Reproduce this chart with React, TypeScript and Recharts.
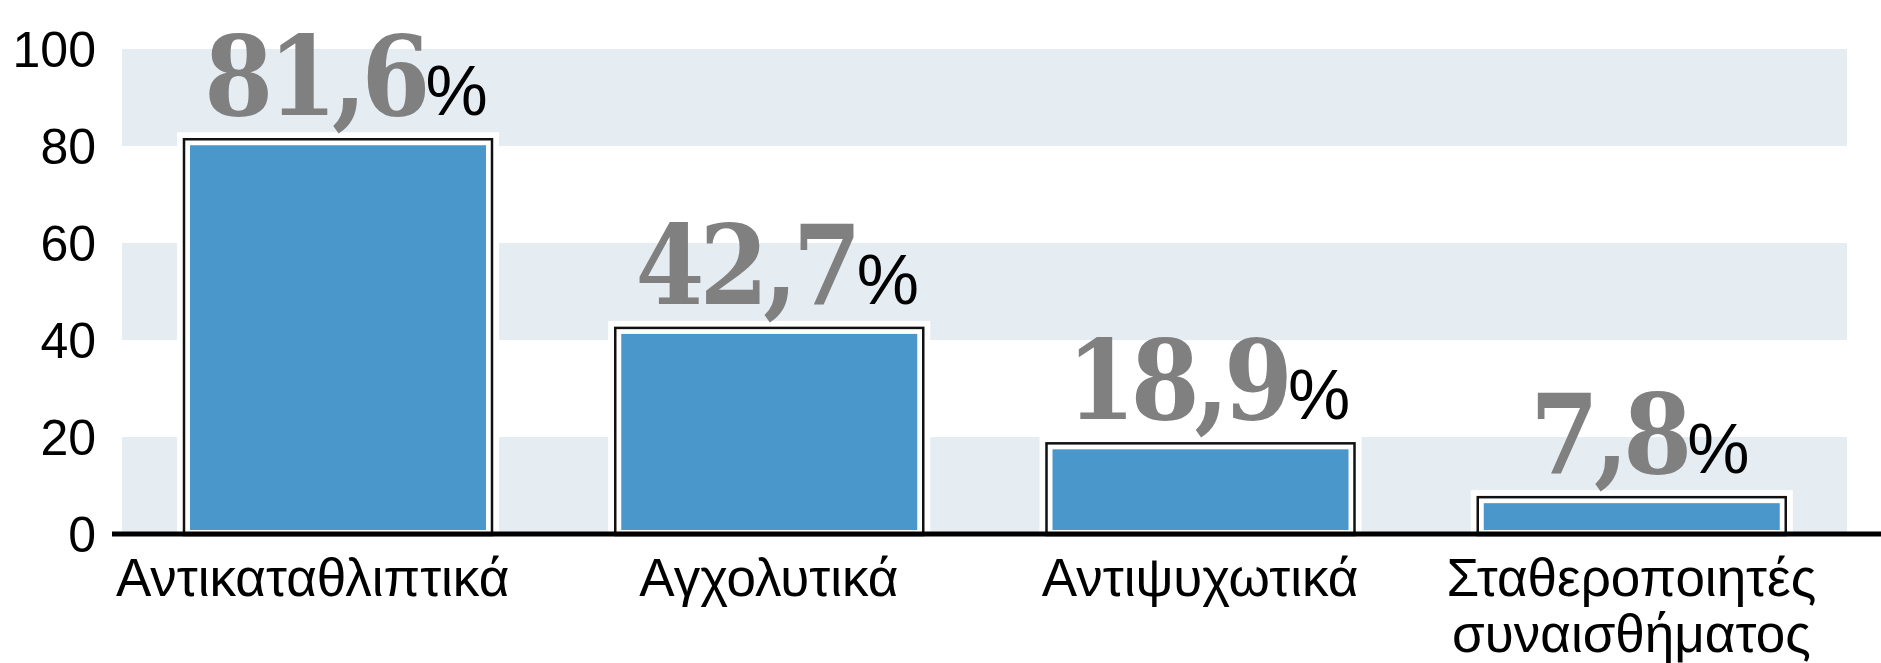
import React from 'react';
import { BarChart, Bar, XAxis, YAxis, ReferenceArea, LabelList } from 'recharts';

const categories = ['Αντικαταθλιπτικά', 'Αγχολυτικά', 'Αντιψυχωτικά', 'Σταθεροποιητές\nσυναισθήματος'];
const values = [81.6, 42.7, 18.9, 7.8];
const yTicks = [0, 20, 40, 60, 80, 100];
const bands = [[0, 20], [40, 60], [80, 100]];

const data = categories.map((name, i) => ({ name, value: values[i] }));

const BLUE = '#4a98cb';
const BAND = '#e5ecf2';
const SANS = '"Liberation Sans Narrow", "Liberation Sans", sans-serif';

const BarShape = (props: any) => {
  const { x, y, width, height } = props;
  const bottom = y + height;
  return (
    <g>
      <rect x={x - 6} y={y - 6} width={width + 12} height={height + 6} fill="#fff" />
      <rect x={x + 1} y={y + 1} width={width - 2} height={height} fill="#fff" stroke="#111" strokeWidth={2.5} />
      <rect x={x + 7} y={y + 7} width={width - 14} height={bottom - y - 11} fill={BLUE} />
    </g>
  );
};

const ValueLabel = (props: any) => {
  const { x, y, width, value } = props;
  const txt = String(value).replace('.', ',');
  return (
    <text x={x + width / 2 + 8} y={y - 23} textAnchor="middle">
      <tspan
        fontFamily='"DejaVu Serif Condensed", "DejaVu Serif", serif'
        fontWeight={900}
        fontSize={110}
        fill="#808080"
        letterSpacing={-5}
      >
        {txt}
      </tspan>
      <tspan fontFamily={SANS} fontSize={70} fill="#000" dx={0}>
        %
      </tspan>
    </text>
  );
};

const CategoryTick = (props: any) => {
  const { x, y, payload, index } = props;
  const lines = String(payload.value).split('\n');
  const nudge = index === 0 ? -25 : 0;
  return (
    <text x={x + nudge} y={y + 60} textAnchor="middle" fontFamily={SANS} fontSize={53} fill="#000">
      {lines.map((l, i) => (
        <tspan key={i} x={x + nudge} dy={i === 0 ? 0 : 56}>
          {l}
        </tspan>
      ))}
    </text>
  );
};

export default function App() {
  return (
    <div style={{ position: 'absolute', left: 0, top: 0, background: '#fff' }}>
      <BarChart
        width={1881}
        height={663}
        data={data}
        margin={{ top: 49, right: 0, bottom: 0, left: 0 }}
        barSize={310}
      >
        {bands.map(([a, b]) => (
          <ReferenceArea key={a} y1={a} y2={b} fill={BAND} fillOpacity={1} stroke="none" />
        ))}
        <XAxis
          dataKey="name"
          interval={0}
          padding={{ left: 10, right: 34 }}
          tickLine={false}
          tickSize={0}
          axisLine={{ stroke: '#000', strokeWidth: 5 }}
          tick={<CategoryTick />}
          height={129}
        />
        <YAxis
          domain={[0, 100]}
          ticks={yTicks}
          width={112}
          axisLine={false}
          tickLine={false}
          tickSize={0}
          tickMargin={16}
          tick={{ fontFamily: SANS, fontSize: 50, fill: '#000' }}
        />
        <Bar dataKey="value" shape={<BarShape />} isAnimationActive={false}>
          <LabelList dataKey="value" content={<ValueLabel />} />
        </Bar>
      </BarChart>
    </div>
  );
}
